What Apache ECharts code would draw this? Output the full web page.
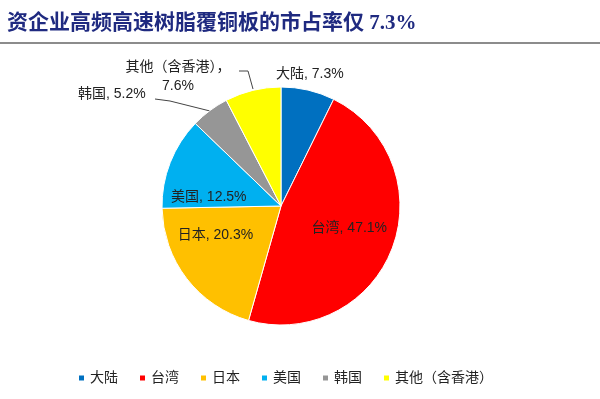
<!DOCTYPE html>
<html>
<head>
<meta charset="utf-8">
<script src="https://cdn.jsdelivr.net/npm/echarts@6/dist/echarts.min.js"></script>
<style>
  html, body { margin: 0; padding: 0; background: #fff; }
  #chart { width: 600px; height: 399px; }
</style>
</head>
<body>
<div id="chart"></div>
<script>
const regions = ['大陆', '台湾', '日本', '美国', '韩国', '其他（含香港）']
const shares = [7.3, 47.1, 20.3, 12.5, 5.2, 7.6]
const colors = ['#0070C0', '#FF0000', '#FFC000', '#00B0F0', '#969696', '#FFFF00']
const titleText = '资企业高频高速树脂覆铜板的市占率仅 7.3%'

const cjk = '"Liberation Sans", "Noto Sans CJK SC", sans-serif'

// 每个扇区的标签位置（内部标签用偏移，外部标签在 labelLayout 里摆放）
const labelCfg = [
  { position: 'outside' },
  { position: 'inside', offset: [10, 0] },
  { position: 'inside', offset: [-16, -9] },
  { position: 'inside', offset: [-14, 14] },
  { position: 'outside' },
  { position: 'outside' }
]
const outsidePos = {
  0: { x: 276, y: 74, align: 'left', verticalAlign: 'middle' },
  4: { x: 78, y: 94, align: 'left', verticalAlign: 'middle',
       labelLinePoints: [[210, 111], [170, 101], [155, 99]] },
  5: { x: 178, y: 77, align: 'center', verticalAlign: 'middle',
       labelLinePoints: [[253, 89], [248, 71], [239, 71]] }
}

const chart = echarts.init(document.getElementById('chart'))
const option = {
  animation: false,
  color: colors,
  title: {
    text: titleText,
    left: 2,
    top: 8,
    textStyle: {
      color: '#1F2A80',
      fontSize: 21,
      fontWeight: 'bold',
      fontFamily: '"Liberation Serif", "Noto Sans CJK SC", serif'
    }
  },
  graphic: [{
    type: 'rect',
    shape: { x: 0, y: 42, width: 600, height: 2 },
    style: { fill: '#8C8C8C' }
  }],
  legend: {
    bottom: 9,
    left: 72,
    icon: 'rect',
    itemWidth: 7,
    itemHeight: 7,
    itemGap: 20,
    textStyle: { fontSize: 14, color: '#222', fontFamily: cjk },
    data: regions
  },
  series: [{
    type: 'pie',
    center: [281, 206],
    radius: 119,
    startAngle: 90,
    clockwise: true,
    itemStyle: { borderColor: '#fff', borderWidth: 1 },
    label: {
      formatter: p => p.dataIndex === 5 ? p.name + '，\n' + p.value + '%' : p.name + ', ' + p.value + '%',
      fontSize: 14,
      color: '#222',
      fontFamily: cjk,
      lineHeight: 19
    },
    labelLine: { show: true, lineStyle: { color: '#444', width: 1 }, length: 10, length2: 10 },
    labelLayout: p => outsidePos[p.dataIndex] || {},
    data: regions.map((name, i) => ({
      name: name,
      value: shares[i],
      label: labelCfg[i],
      labelLine: { show: i === 4 || i === 5 }
    }))
  }]
}
chart.setOption(option)
</script>
</body>
</html>
